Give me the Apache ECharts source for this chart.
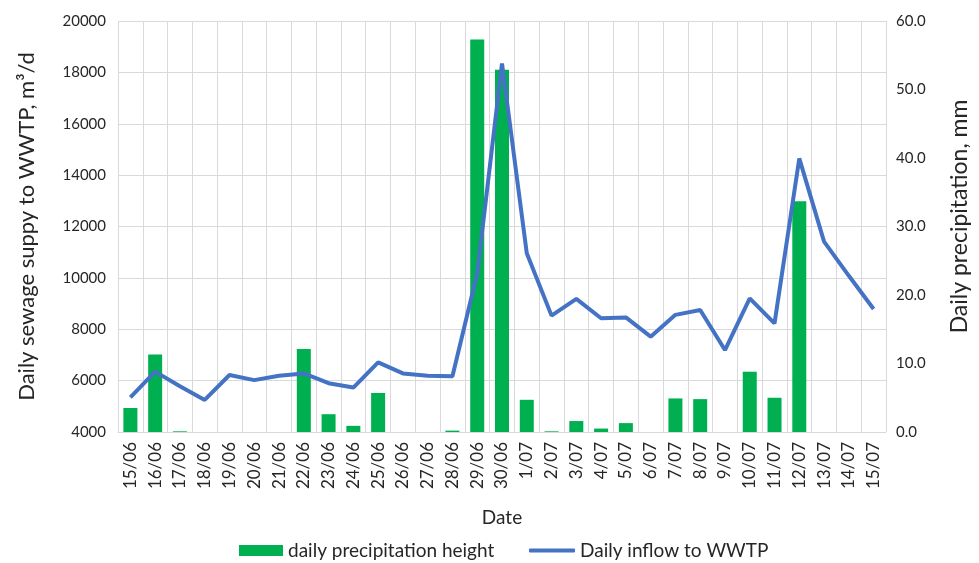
<!DOCTYPE html>
<html>
<head>
<meta charset="utf-8">
<script src="https://cdn.jsdelivr.net/npm/echarts@6/dist/echarts.min.js"></script>
<style>
  html, body { margin: 0; padding: 0; background: #fff; }
  #chart { width: 979px; height: 563px; }
</style>
</head>
<body>
<div id="chart"></div>
<script>
// dates on the x axis
const dates = [
  '15/06', '16/06', '17/06', '18/06', '19/06', '20/06', '21/06', '22/06',
  '23/06', '24/06', '25/06', '26/06', '27/06', '28/06', '29/06', '30/06',
  '1/07', '2/07', '3/07', '4/07', '5/07', '6/07', '7/07', '8/07',
  '9/07', '10/07', '11/07', '12/07', '13/07', '14/07', '15/07'
];

// daily precipitation, mm (right axis)
const precipitation = [
  3.5, 11.3, 0.1, 0, 0, 0, 0, 12.1,
  2.6, 0.9, 5.7, 0, 0, 0.2, 57.3, 52.9,
  4.7, 0.1, 1.6, 0.5, 1.3, 0, 4.9, 4.8,
  0, 8.8, 5.0, 33.7, 0, 0, 0
];

// daily inflow to WWTP, m3/d (left axis)
const inflow = [
  5350, 6350, 5780, 5250, 6220, 6020, 6190, 6280,
  5900, 5730, 6710, 6280, 6190, 6170, 10180, 18350,
  10960, 8530, 9180, 8430, 8460, 7710, 8560, 8750,
  7190, 9200, 8230, 14650, 11410, 10080, 8790
];

const FONT = 'Lato, "Liberation Sans", sans-serif';
const TEXT = '#262626';
const GRID = '#d9d9d9';

const chart = echarts.init(document.getElementById('chart'), null, { renderer: 'canvas' });

/* legend: bar and line get separate blocks so the line icon can be thin */
const legendText = { fontSize: 19, color: TEXT, fontFamily: FONT };

chart.setOption({
  animation: false,
  textStyle: { fontFamily: FONT, color: TEXT },
  grid: { left: 118, right: 92, top: 21, bottom: 131 },
  legend: [
    {
      left: 239,
      top: 541,
      padding: 0,
      itemWidth: 44,
      itemHeight: 11,
      textStyle: legendText,
      data: [{ name: 'daily precipitation height', icon: 'rect' }]
    },
    {
      left: 529,
      top: 541,
      padding: 0,
      itemWidth: 46,
      itemHeight: 4,
      textStyle: legendText,
      data: [{ name: 'Daily inflow to WWTP', icon: 'roundRect' }]
    }
  ],
  xAxis: {
    type: 'category',
    data: dates,
    boundaryGap: true,
    name: 'Date',
    nameLocation: 'middle',
    nameGap: 76,
    nameTextStyle: { fontSize: 19, color: TEXT },
    axisTick: { show: false },
    axisLine: { lineStyle: { color: GRID } },
    splitLine: { show: true, lineStyle: { color: GRID, width: 1 } },
    axisLabel: { rotate: 90, fontSize: 17, color: TEXT, margin: 10, interval: 0 }
  },
  yAxis: [
    {
      type: 'value',
      min: 4000,
      max: 20000,
      interval: 2000,
      name: 'Daily sewage suppy to WWTP, m³/d',
      nameLocation: 'middle',
      nameGap: 80,
      nameTextStyle: { fontSize: 22, color: TEXT },
      axisLine: { show: false },
      axisTick: { show: false },
      axisLabel: { fontSize: 15, color: TEXT, margin: 12, formatter: (v) => String(v) },
      splitLine: { lineStyle: { color: GRID, width: 1 } }
    },
    {
      type: 'value',
      min: 0,
      max: 60,
      interval: 10,
      name: 'Daily precipitation, mm',
      nameLocation: 'middle',
      nameGap: 62,
      nameTextStyle: { fontSize: 23, color: TEXT, padding: [0, 0, 0, 20] },
      axisLine: { show: false },
      axisTick: { show: false },
      axisLabel: { fontSize: 15, color: TEXT, margin: 10, formatter: (v) => v.toFixed(1) },
      splitLine: { show: false }
    }
  ],
  series: [
    {
      name: 'daily precipitation height',
      type: 'bar',
      yAxisIndex: 1,
      data: precipitation,
      barWidth: 14,
      itemStyle: { color: '#00B050' },
      z: 2
    },
    {
      name: 'Daily inflow to WWTP',
      type: 'line',
      yAxisIndex: 0,
      data: inflow,
      symbol: 'none',
      lineStyle: { color: '#4472C4', width: 4 },
      itemStyle: { color: '#4472C4' },
      z: 3
    }
  ]
});
</script>
</body>
</html>
